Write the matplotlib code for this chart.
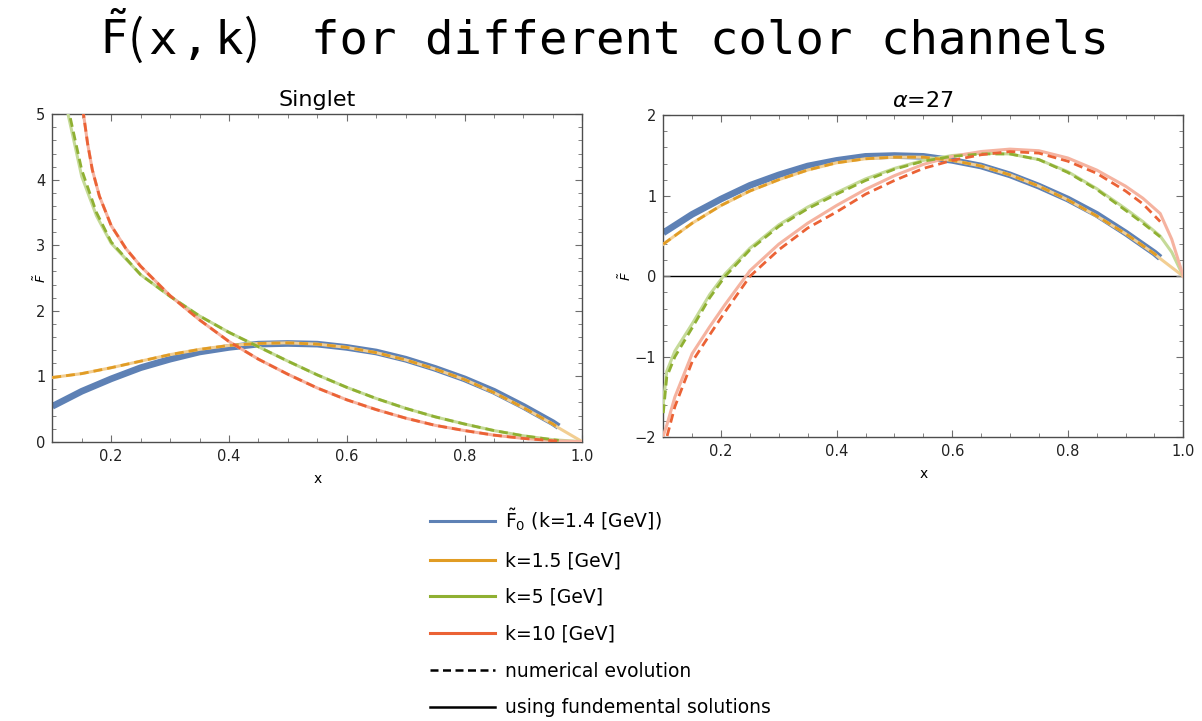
import matplotlib
matplotlib.use("Agg")
import matplotlib.pyplot as plt
from matplotlib.lines import Line2D
from matplotlib.ticker import MultipleLocator, FuncFormatter

plt.rcParams['font.family'] = ['DejaVu Sans']
plt.rcParams['mathtext.fontset'] = 'dejavusans'

# ---------------- data ----------------
# initial condition F0 (k = 1.4 GeV), same in both panels
x_f0 = [0.10, 0.15, 0.20, 0.25, 0.30, 0.35, 0.40, 0.45, 0.50, 0.55, 0.60,
        0.65, 0.70, 0.75, 0.80, 0.85, 0.90, 0.95, 0.96]
F0 = [0.54, 0.77, 0.96, 1.13, 1.26, 1.37, 1.44, 1.49, 1.50, 1.49, 1.44,
      1.37, 1.26, 1.12, 0.96, 0.77, 0.54, 0.29, 0.23]

# common grid for k=1.5 curves
x_k15 = [0.10, 0.15, 0.20, 0.25, 0.30, 0.35, 0.40, 0.45, 0.50, 0.55, 0.60,
         0.65, 0.70, 0.75, 0.80, 0.85, 0.90, 0.95, 0.96]
x_k15_fund = x_k15 + [1.0]

# ---- Singlet panel ----
sing_k15_num = [0.98, 1.04, 1.13, 1.23, 1.33, 1.41, 1.47, 1.50, 1.51, 1.49, 1.44,
                1.36, 1.25, 1.11, 0.95, 0.75, 0.52, 0.27, 0.21]
sing_k15_fund = [0.98, 1.04, 1.13, 1.23, 1.33, 1.41, 1.47, 1.50, 1.51, 1.49, 1.44,
                 1.36, 1.25, 1.11, 0.95, 0.75, 0.52, 0.27, 0.21, 0.0]

x_sing_k5 = [0.10, 0.128, 0.15, 0.175, 0.20, 0.25, 0.30, 0.35, 0.40, 0.45, 0.50,
             0.55, 0.60, 0.65, 0.70, 0.75, 0.80, 0.85, 0.90, 0.95, 0.96]
sing_k5_num = [6.4, 5.05, 4.15, 3.5, 3.05, 2.55, 2.22, 1.92, 1.67, 1.45, 1.23,
               1.02, 0.83, 0.66, 0.51, 0.38, 0.27, 0.17, 0.09, 0.03, 0.02]
x_sing_k5_f = [0.10, 0.128, 0.15, 0.175, 0.20, 0.25, 0.30, 0.35, 0.40, 0.45, 0.50,
               0.55, 0.60, 0.65, 0.70, 0.75, 0.80, 0.85, 0.90, 0.95, 1.0]
sing_k5_fund = [6.2, 4.95, 4.05, 3.45, 3.03, 2.55, 2.22, 1.92, 1.67, 1.45, 1.23,
                1.02, 0.83, 0.66, 0.51, 0.38, 0.27, 0.17, 0.09, 0.03, 0.0]

x_sing_k10 = [0.145, 0.153, 0.16, 0.168, 0.18, 0.20, 0.225, 0.25, 0.30, 0.35, 0.40,
              0.45, 0.50, 0.55, 0.60, 0.65, 0.70, 0.75, 0.80, 0.85, 0.90, 0.95, 0.96]
sing_k10_num = [5.5, 5.0, 4.55, 4.15, 3.75, 3.3, 2.95, 2.68, 2.23, 1.86, 1.53,
                1.26, 1.03, 0.82, 0.64, 0.49, 0.36, 0.25, 0.17, 0.10, 0.05, 0.015, 0.01]
x_sing_k10_f = [0.145, 0.153, 0.16, 0.168, 0.18, 0.20, 0.225, 0.25, 0.30, 0.35, 0.40,
                0.45, 0.50, 0.55, 0.60, 0.65, 0.70, 0.75, 0.80, 0.85, 0.90, 0.95, 1.0]
sing_k10_fund = [5.5, 5.0, 4.55, 4.15, 3.75, 3.3, 2.95, 2.68, 2.23, 1.86, 1.53,
                 1.26, 1.03, 0.82, 0.64, 0.49, 0.36, 0.25, 0.17, 0.10, 0.05, 0.015, 0.0]

# ---- alpha = 27 panel ----
a27_k15_num = [0.40, 0.66, 0.88, 1.06, 1.20, 1.32, 1.41, 1.46, 1.48, 1.48, 1.44,
               1.37, 1.26, 1.12, 0.95, 0.75, 0.53, 0.28, 0.22]
a27_k15_fund = [0.40, 0.66, 0.88, 1.06, 1.20, 1.32, 1.41, 1.46, 1.48, 1.48, 1.44,
                1.37, 1.26, 1.12, 0.95, 0.75, 0.53, 0.28, 0.22, 0.0]

x_a27 = [0.10, 0.106, 0.12, 0.15, 0.18, 0.207, 0.25, 0.30, 0.35, 0.40, 0.45,
         0.50, 0.55, 0.60, 0.65, 0.70, 0.75, 0.80, 0.85, 0.90, 0.93, 0.96]
x_a27_fund = x_a27 + [0.98, 1.0]
a27_k5_num = [-1.70, -1.25, -1.00, -0.64, -0.27, 0.0, 0.33, 0.62, 0.84, 1.02, 1.19,
              1.33, 1.43, 1.49, 1.52, 1.52, 1.45, 1.29, 1.08, 0.82, 0.66, 0.49]
a27_k5_fund = [-1.58, -1.18, -0.93, -0.59, -0.23, 0.03, 0.35, 0.64, 0.86, 1.04, 1.21,
               1.34, 1.44, 1.50, 1.53, 1.52, 1.45, 1.30, 1.09, 0.84, 0.68, 0.50, 0.30, 0.0]

a27_k10_num = [-2.15, -2.0, -1.62, -1.06, -0.73, -0.44, 0.0, 0.33, 0.60, 0.80, 1.02,
               1.19, 1.34, 1.44, 1.51, 1.55, 1.53, 1.43, 1.28, 1.06, 0.90, 0.68]
a27_k10_fund = [-1.98, -1.85, -1.50, -0.96, -0.63, -0.35, 0.07, 0.40, 0.66, 0.88, 1.08,
                1.25, 1.39, 1.49, 1.55, 1.58, 1.56, 1.47, 1.32, 1.12, 0.97, 0.78, 0.46, 0.0]

# ---------------- style ----------------
BLUE = '#5E81B5'
ORANGE = '#E19C24'
GREEN = '#8FB032'
RED = '#EB6235'
ORANGE_L = '#F2CE92'
GREEN_L = '#C5DA98'
RED_L = '#F5B3A0'

W, H = 1202, 721
fig = plt.figure(figsize=(W / 100, H / 100), dpi=100)

ax1 = fig.add_axes([52.3 / W, 1 - 441.7 / H, 530 / W, 327.4 / H])
ax2 = fig.add_axes([663.3 / W, 1 - 437.3 / H, 520 / W, 322 / H])

DASH = (0, (3.2, 1.8))


def style_axis(ax, ylabel_x):
    for s in ax.spines.values():
        s.set_color('#4d4d4d')
        s.set_linewidth(1.0)
    ax.tick_params(which='both', direction='in', top=True, right=True,
                   color='#6e6e6e', labelsize=10.5, labelcolor='#222222')
    ax.tick_params(which='major', length=5, width=0.8, pad=5)
    ax.tick_params(which='minor', length=2.8, width=0.6)
    ax.xaxis.set_major_locator(MultipleLocator(0.2))
    ax.xaxis.set_minor_locator(MultipleLocator(0.05))
    ax.yaxis.set_minor_locator(MultipleLocator(0.2))
    ax.yaxis.set_major_locator(MultipleLocator(1))
    ax.yaxis.set_major_formatter(FuncFormatter(lambda v, p: ('%d' % round(v)).replace('-', '\u2212')))
    ax.xaxis.set_major_formatter(FuncFormatter(lambda v, p: '%.1f' % v))
    ax.set_xlabel('x', fontsize=10)
    ax.set_ylabel(r'$\tilde{F}$', fontsize=9.5, rotation=90)
    ax.xaxis.set_label_coords(0.5, -0.093)
    ax.yaxis.set_label_coords(ylabel_x, 0.5)


# --- Singlet ---
ax1.plot(x_f0, F0, color=BLUE, lw=4.8, solid_capstyle='butt', zorder=2)
ax1.plot(x_k15_fund, sing_k15_fund, color=ORANGE_L, lw=2.2, zorder=3)
ax1.plot(x_sing_k5_f, sing_k5_fund, color=GREEN_L, lw=2.2, zorder=3)
ax1.plot(x_sing_k10_f, sing_k10_fund, color=RED_L, lw=2.2, zorder=3)
ax1.plot(x_k15, sing_k15_num, color=ORANGE, lw=2.0, ls=DASH, zorder=4)
ax1.plot(x_sing_k5, sing_k5_num, color=GREEN, lw=2.0, ls=DASH, zorder=4)
ax1.plot(x_sing_k10, sing_k10_num, color=RED, lw=2.0, ls=DASH, zorder=4)
ax1.set_xlim(0.1, 1.0)
ax1.set_ylim(0, 5)
style_axis(ax1, (49 - 52.3) / 530)
ax1.set_title('Singlet', fontsize=16, pad=6)

# --- alpha = 27 ---
ax2.axhline(0, color='black', lw=1.0, zorder=1)
ax2.plot(x_f0, F0, color=BLUE, lw=4.8, solid_capstyle='butt', zorder=2)
ax2.plot(x_k15_fund, a27_k15_fund, color=ORANGE_L, lw=2.2, zorder=3)
ax2.plot(x_a27_fund, a27_k5_fund, color=GREEN_L, lw=2.2, zorder=3)
ax2.plot(x_a27_fund, a27_k10_fund, color=RED_L, lw=2.2, zorder=3)
ax2.plot(x_k15, a27_k15_num, color=ORANGE, lw=2.0, ls=DASH, zorder=4)
ax2.plot(x_a27, a27_k5_num, color=GREEN, lw=2.0, ls=DASH, zorder=4)
ax2.plot(x_a27, a27_k10_num, color=RED, lw=2.0, ls=DASH, zorder=4)
ax2.set_xlim(0.1, 1.0)
ax2.set_ylim(-2, 2)
style_axis(ax2, (634 - 663.3) / 520)
ax2.set_title(r'$\alpha$=27', fontsize=16, pad=6)

# --- main title (pieces placed along one baseline) ---
ty = 1 - 54 / H
MONO = ['DejaVu Sans Mono']
CJK = ['Noto Sans CJK SC', 'DejaVu Sans']
fig.text(100 / W, ty, r'$\tilde{\mathrm{F}}$', ha='left', va='baseline',
         fontsize=34, math_fontfamily='dejavusans')
fig.text(128 / W, ty, '(', ha='left', va='baseline', fontsize=34, family=CJK)
fig.text(148 / W, ty, 'x', ha='left', va='baseline', fontsize=34, family=MONO)
fig.text(181 / W, ty, ',', ha='left', va='baseline', fontsize=34, family=MONO)
fig.text(215 / W, ty, 'k', ha='left', va='baseline', fontsize=34, family=MONO)
fig.text(244 / W, ty, ')', ha='left', va='baseline', fontsize=34, family=CJK)
fig.text(311 / W, ty, 'for different color channels', ha='left', va='baseline',
         fontsize=34, family=MONO)

# --- legend ---
handles = [
    Line2D([], [], color=BLUE, lw=2.2),
    Line2D([], [], color=ORANGE, lw=2.2),
    Line2D([], [], color=GREEN, lw=2.2),
    Line2D([], [], color=RED, lw=2.2),
    Line2D([], [], color='black', lw=1.8, ls=(0, (3.2, 1.8))),
    Line2D([], [], color='black', lw=1.8),
]
labels = [r'$\tilde{\mathrm{F}}_0$ (k=1.4 [GeV])', 'k=1.5 [GeV]', 'k=5 [GeV]',
          'k=10 [GeV]', 'numerical evolution', 'using fundemental solutions']
fig.legend(handles, labels, loc='upper left',
           bbox_to_anchor=(430 / W, 1 - 507 / H), frameon=False,
           fontsize=13.5, handlelength=3.45, handletextpad=0.55,
           labelspacing=0.95, borderpad=0, borderaxespad=0)

fig.savefig('out.png', dpi=100)
